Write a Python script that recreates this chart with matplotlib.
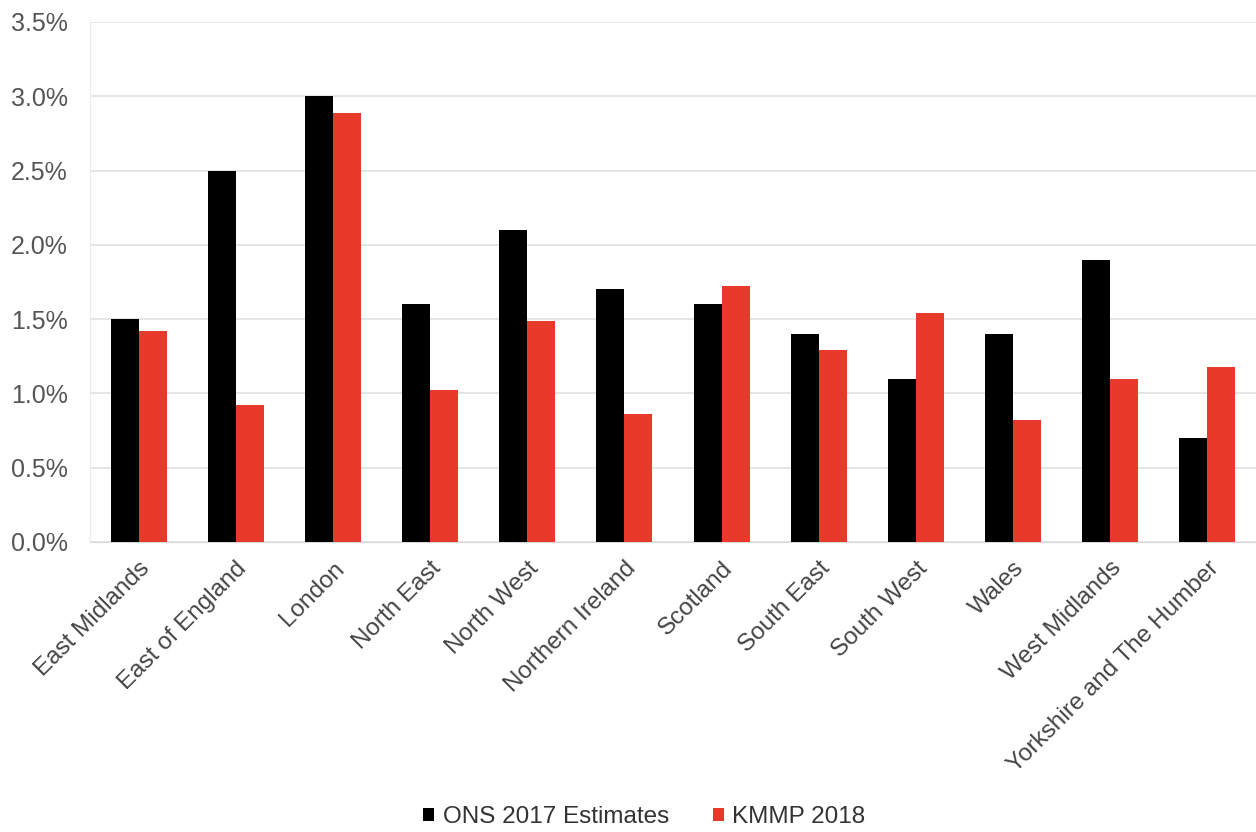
import numpy as np
import matplotlib.pyplot as plt
import matplotlib.ticker as ticker

regions = ["East Midlands", "East of England", "London", "North East", "North West",
           "Northern Ireland", "Scotland", "South East", "South West", "Wales",
           "West Midlands", "Yorkshire and The Humber"]
ons_2017 = [1.5, 2.5, 3.0, 1.6, 2.1, 1.7, 1.6, 1.4, 1.1, 1.4, 1.9, 0.7]
kmmp_2018 = [1.42, 0.92, 2.89, 1.02, 1.49, 0.86, 1.72, 1.29, 1.54, 0.82, 1.10, 1.18]

plt.rcParams['font.family'] = ['Liberation Sans', 'DejaVu Sans']

fig = plt.figure(figsize=(12.56, 8.32), dpi=100)
ax = fig.add_axes([0.0717, 0.3486, 0.9283, 0.625])

x = np.arange(len(regions))
w = 0.288
ax.bar(x - w/2, ons_2017, w, color='black', label='ONS 2017 Estimates', zorder=3)
ax.bar(x + w/2, kmmp_2018, w, color='#E83A2A', label='KMMP 2018', zorder=3)

ax.set_xlim(-0.5, len(regions) - 0.5)
ax.set_ylim(0, 3.5)
ax.yaxis.set_major_locator(ticker.MultipleLocator(0.5))
ax.yaxis.set_major_formatter(ticker.FuncFormatter(lambda v, p: f"{v:.1f}%"))
ax.grid(axis='y', color='#e0e0e0', linewidth=1.2, zorder=0)

for s in ['top', 'right']:
    ax.spines[s].set_visible(False)
ax.spines['left'].set_color('#ececec')
ax.spines['bottom'].set_color('#d9d9d9')
ax.tick_params(length=0, colors='#555555', labelsize=18)
ax.tick_params(axis='y', pad=16)
ax.tick_params(axis='x', pad=11)

ax.set_xticks(x)
ax.set_xticklabels(regions, rotation=45, ha='right', rotation_mode='anchor', color='#444444', fontsize=17.5)

fig.legend(loc='center', bbox_to_anchor=(0.513, 0.018), ncol=2, frameon=False,
           fontsize=17.5, handlelength=0.45, handleheight=0.45, handletextpad=0.35,
           columnspacing=1.8, labelcolor='#333333')

fig.savefig('out.png')
